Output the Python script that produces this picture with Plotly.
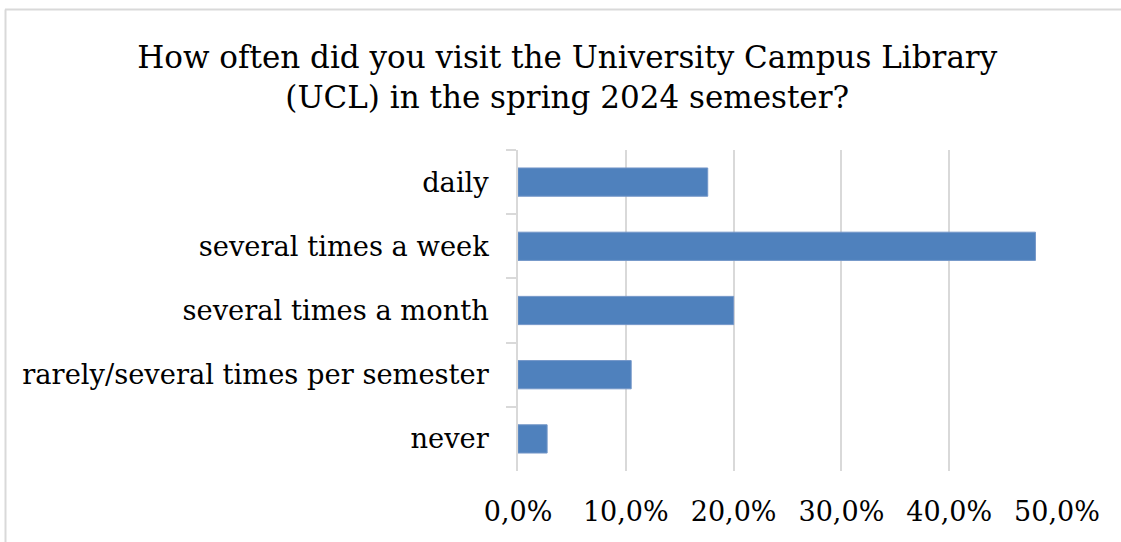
import plotly.graph_objects as go

categories = ["daily", "several times a week", "several times a month",
              "rarely/several times per semester", "never"]
values = [17.6, 48.0, 20.0, 10.5, 2.7]
x_ticks = [0, 10, 20, 30, 40, 50]
x_tick_labels = ["0,0%", "10,0%", "20,0%", "30,0%", "40,0%", "50,0%"]

W, H = 1121, 542
L, R, T, B = 518, 64, 150, 71
font_fam = "DejaVu Serif"

fig = go.Figure(go.Bar(
    y=categories, x=values, orientation="h",
    marker=dict(color="#4f81bd", line=dict(color="#7396c8", width=1)),
    width=0.44,
))

# chart border (left and top lines), converted from pixels to paper coords
pw, ph = W - L - R, H - T - B
def px_x(p):
    return (p - L) / pw
def px_y(p):
    return (H - B - p) / ph

shapes = [
    dict(type="line", xref="paper", yref="paper",
         x0=px_x(5.5), x1=px_x(5.5), y0=px_y(9.5), y1=px_y(560),
         line=dict(color="#d9d9d9", width=2)),
    dict(type="line", xref="paper", yref="paper",
         x0=px_x(5), x1=px_x(1130), y0=px_y(9.5), y1=px_y(9.5),
         line=dict(color="#d9d9d9", width=2)),
]

fig.update_layout(
    width=W, height=H,
    margin=dict(l=L, r=R, t=T, b=B, autoexpand=False),
    paper_bgcolor="white", plot_bgcolor="white",
    showlegend=False,
    font=dict(family=font_fam, color="black"),
    title=dict(
        text="How often did you visit the University Campus Library<br>(UCL) in the spring 2024 semester?",
        x=0.506, xref="container", xanchor="center",
        y=1 - 68 / H, yref="container", yanchor="top",
        font=dict(size=31, family=font_fam, color="black"),
    ),
    xaxis=dict(
        range=[0, 50], tickmode="array", tickvals=x_ticks, ticktext=x_tick_labels,
        showgrid=True, gridcolor="#d9d9d9", gridwidth=1.5,
        zeroline=False, showline=False, ticks="", automargin=False,
        tickfont=dict(size=27, family=font_fam, color="black"),
        ticklabelstandoff=22,
    ),
    yaxis=dict(
        categoryorder="array", categoryarray=categories, autorange="reversed",
        showgrid=False, zeroline=False, automargin=False,
        showline=True, linecolor="#d9d9d9", linewidth=1.5,
        ticks="outside", tickson="boundaries", ticklen=10, tickcolor="#d9d9d9",
        tickwidth=1.5,
        tickfont=dict(size=27.3, family=font_fam, color="black"),
        ticklabelstandoff=22,
    ),
    shapes=shapes,
)

fig.write_html("out.html")
